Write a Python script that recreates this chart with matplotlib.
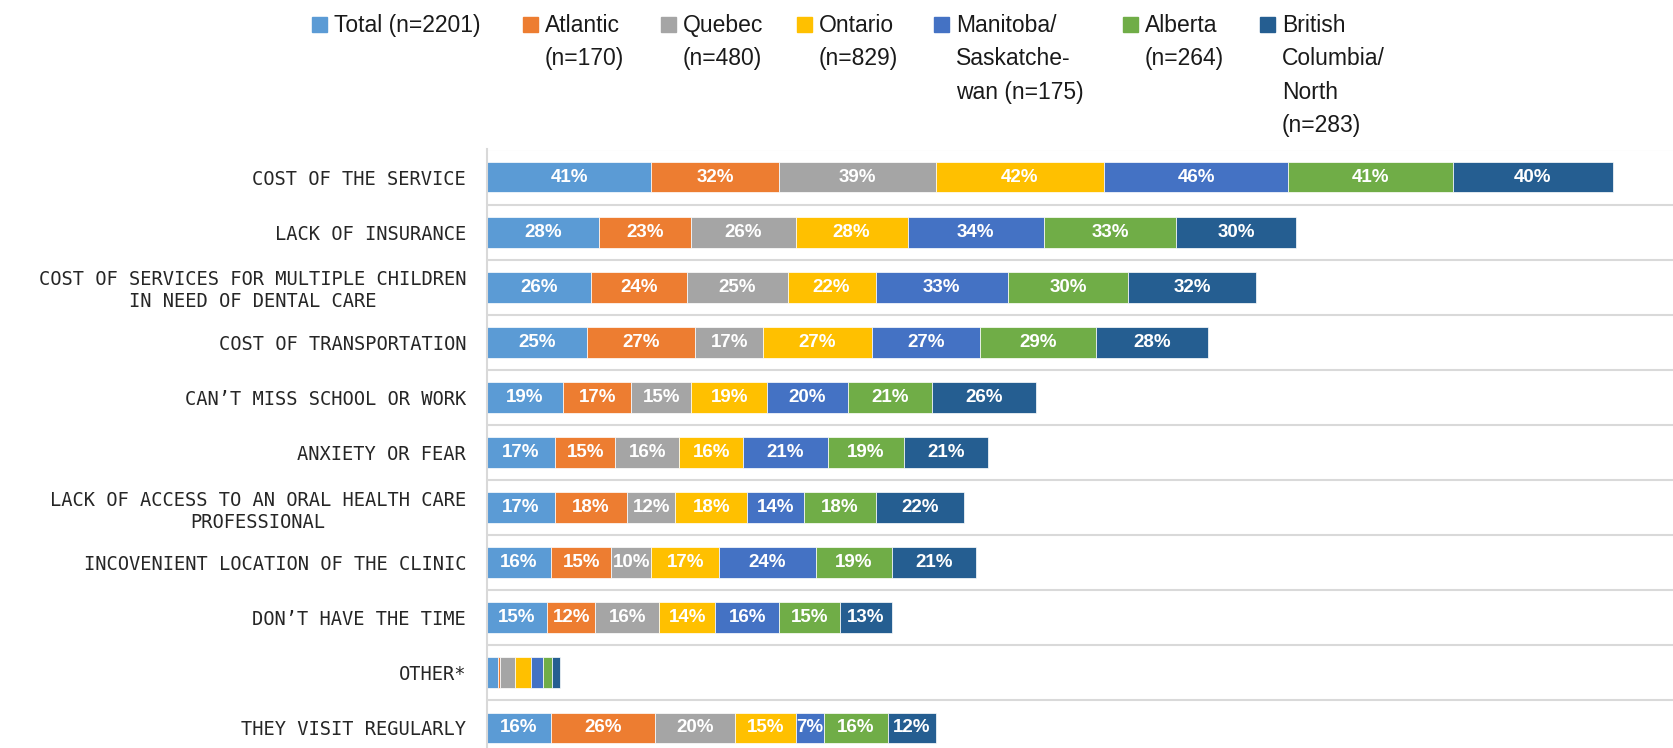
import numpy as np
import matplotlib
matplotlib.use("Agg")
import matplotlib.pyplot as plt
from matplotlib.patches import Rectangle

categories = [
    "COST OF THE SERVICE",
    "LACK OF INSURANCE",
    "COST OF SERVICES FOR MULTIPLE CHILDREN\nIN NEED OF DENTAL CARE",
    "COST OF TRANSPORTATION",
    "CAN\u2019T MISS SCHOOL OR WORK",
    "ANXIETY OR FEAR",
    "LACK OF ACCESS TO AN ORAL HEALTH CARE\nPROFESSIONAL",
    "INCOVENIENT LOCATION OF THE CLINIC",
    "DON\u2019T HAVE THE TIME",
    "OTHER*",
    "THEY VISIT REGULARLY",
]

series_names = [
    "Total (n=2201)",
    "Atlantic\n(n=170)",
    "Quebec\n(n=480)",
    "Ontario\n(n=829)",
    "Manitoba/\nSaskatche-\nwan (n=175)",
    "Alberta\n(n=264)",
    "British\nColumbia/\nNorth\n(n=283)",
]

total    = [41, 28, 26, 25, 19, 17, 17, 16, 15, 2.7, 16]
atlantic = [32, 23, 24, 27, 17, 15, 18, 15, 12, 0.5, 26]
quebec   = [39, 26, 25, 17, 15, 16, 12, 10, 16, 3.7, 20]
ontario  = [42, 28, 22, 27, 19, 16, 18, 17, 14, 4.0, 15]
manitoba = [46, 34, 33, 27, 20, 21, 14, 24, 16, 3.2, 7]
alberta  = [41, 33, 30, 29, 21, 19, 18, 19, 15, 2.2, 16]
bc       = [40, 30, 32, 28, 26, 21, 22, 21, 13, 1.9, 12]

colors = ["#5B9BD5", "#ED7D31", "#A5A5A5", "#FFC000", "#4472C4", "#70AD47", "#255E91"]

data = [total, atlantic, quebec, ontario, manitoba, alberta, bc]

W, H = 1673, 748
fig = plt.figure(figsize=(W / 100, H / 100), dpi=100)
ax = fig.add_axes([487 / W, -7.5 / H, (W - 487) / W, 606 / H])

y = np.arange(len(categories))
left = np.zeros(len(categories))
for vals, col in zip(data, colors):
    vals = np.array(vals, dtype=float)
    bars = ax.barh(y, vals, left=left, height=0.56, color=col,
                   edgecolor="white", linewidth=0.5)
    labels = ["%d%%" % round(v) if v >= 5 else "" for v in vals]
    ax.bar_label(bars, labels=labels, label_type="center", color="white",
                 fontweight="bold", fontsize=13.5, family="Liberation Sans")
    left += vals

ax.set_xlim(0, 296)
ax.set_ylim(len(categories) - 0.5, -0.5)
for k in range(len(categories) + 1):
    ax.axhline(k - 0.5, color="#D9D9D9", lw=1.5, zorder=0)

ax.set_xticks([])
ax.set_yticks(y)
ax.set_yticklabels(categories, fontsize=13.5, color="#262626",
                   family="DejaVu Sans Mono", multialignment="center")
ax.tick_params(axis="y", length=0, pad=15)
for s in ["top", "right", "bottom"]:
    ax.spines[s].set_visible(False)
ax.spines["left"].set_color("#D9D9D9")
ax.spines["left"].set_linewidth(1.5)

# legend, laid out by hand to keep the wrapped labels top-aligned
leg_x = [312, 523, 661, 797, 934, 1123, 1260]
for name, col, lx in zip(series_names, colors, leg_x):
    fig.patches.append(Rectangle((lx / W, 1 - 32 / H), 14.5 / W, 14.5 / H,
                                 transform=fig.transFigure, color=col))
    fig.text((lx + 22) / W, 1 - 14 / H, name, ha="left", va="top",
             fontsize=16.5, family="Liberation Sans", color="#1a1a1a",
             linespacing=1.58)

fig.savefig("out.png", dpi=100)
